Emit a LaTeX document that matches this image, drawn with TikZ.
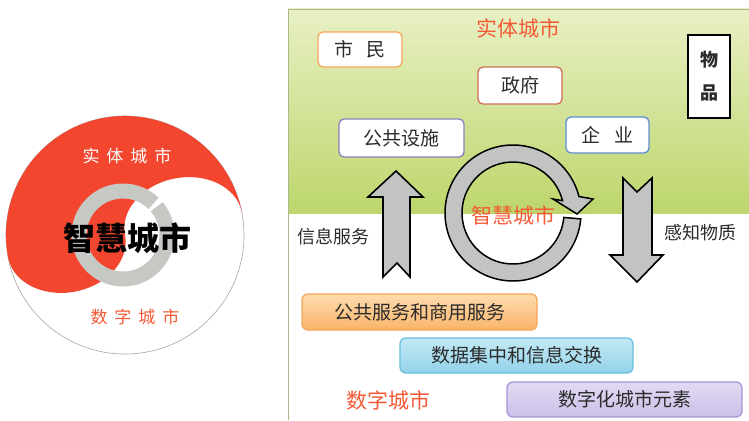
\documentclass[tikz,border=0pt]{standalone}
\usepackage{fontspec}
\setmainfont{Noto Sans CJK SC}
\usetikzlibrary{calc}
\definecolor{cred}{HTML}{F2462E}
\definecolor{ttl}{HTML}{F55A36}
\definecolor{txt}{HTML}{2B2B2B}
\definecolor{ringgray}{HTML}{C6C8C4}
\definecolor{arrgray}{HTML}{C2C4C1}
\definecolor{gtop}{HTML}{E8F0C4}
\definecolor{gbot}{HTML}{BDD66C}
\definecolor{pborder}{HTML}{A9B98A}
\definecolor{bOrange}{HTML}{F6A65A}
\definecolor{bBrown}{HTML}{D0705A}
\definecolor{bPurple}{HTML}{8A80C0}
\definecolor{bBlue}{HTML}{5B8FD0}
\definecolor{oTop}{HTML}{FDDCAE}
\definecolor{oBot}{HTML}{F9B468}
\definecolor{cTop}{HTML}{C4EAF5}
\definecolor{cBot}{HTML}{92D2EA}
\definecolor{cDraw}{HTML}{6CC0DE}
\definecolor{lTop}{HTML}{E2DAF3}
\definecolor{lBot}{HTML}{CBBFE8}
\definecolor{lDraw}{HTML}{A796D4}
\begin{document}
\begin{tikzpicture}[x=1pt,y=-1pt,
  box/.style={draw, line width=1.3pt, rounded corners=5pt, fill=white, text=txt,
    font=\fontsize{19}{19}\selectfont, inner sep=0pt},
  bigbox/.style={draw, line width=1.3pt, rounded corners=6pt, text=txt,
    font=\fontsize{19}{19}\selectfont, inner sep=0pt, minimum width=235pt, minimum height=36pt},
  label/.style={text=txt, font=\fontsize{18}{18}\selectfont, inner sep=0pt},
  title/.style={text=ttl, font=\fontsize{21}{21}\selectfont, inner sep=0pt},
  bigarrow/.style={fill=arrgray, draw=black, line width=1.6pt}]
\useasboundingbox (0,0) rectangle (749,420);
\fill[white] (0,0) rectangle (749,420);

% ---------- left: yin-yang circle ----------
\begin{scope}[shift={(125,235)}]
  \draw[gray!70, line width=0.6pt, fill=white] (0,0) circle[radius=119];
  \begin{scope}[rotate=11]
    \fill[cred] (-119,0) arc[start angle=180, end angle=360, radius=119]
      arc[start angle=0, end angle=-180, x radius=59.5, y radius=46]
      arc[start angle=0, end angle=180, x radius=59.5, y radius=46] -- cycle;
  \end{scope}
\end{scope}
\draw[ringgray, line width=15pt] (123,235) ++(-40:44)
  arc[start angle=-40, end angle=314, radius=44];
\node[text=white, font=\fontsize{17}{17}\selectfont, inner sep=0pt] (lt) at (127,156)
  {实\hspace{7pt}体\hspace{7pt}城\hspace{7pt}市};
\node[text=black, font=\bfseries\fontsize{32}{32}\selectfont, inner sep=0pt] (lc) at (127,238) {智慧城市};
\node[text=ttl, font=\fontsize{17}{17}\selectfont, inner sep=0pt] (lb) at (135,317)
  {数\hspace{7pt}字\hspace{7pt}城\hspace{7pt}市};

% ---------- right panel ----------
\shade[top color=gtop, bottom color=gbot] (288,9) rectangle (749,213);
\draw[pborder, line width=0.8pt] (749,9) -- (288,9) -- (288,420);

% up arrow
\draw[bigarrow] (396,171) -- (423,197) -- (410,197) -- (410,277) -- (397,263)
  -- (383,277) -- (383,197) -- (368,197) -- cycle;
% down arrow
\draw[bigarrow] (623,178) -- (637,192) -- (652,178) -- (652,255) -- (663,255)
  -- (637,282) -- (610,255) -- (623,255) -- cycle;
% circular arrow
\coordinate (c) at (513,213);
\draw[bigarrow, line width=1.5pt] ($(c)+(5:68)$) arc[start angle=5, end angle=346, radius=68]
  -- (593,199) -- (577,214) -- (553,199) -- ($(c)+(346:51)$)
  arc[start angle=346, end angle=5, radius=51] -- cycle;

\node[title] (tTop) at (518,28) {实体城市};
\node[title] (tMid) at (513,215) {智慧城市};
\node[title] (tBot) at (388,400) {数字城市};
\node[label] (info) at (333,237) {信息服务};
\node[label] (sense) at (700,233) {感知物质};

% upper boxes
\node[box, draw=bOrange, minimum width=84pt, minimum height=35pt] (citizen) at (360,49.5) {市\hspace{14pt}民};
\node[box, draw=bBrown, minimum width=84pt, minimum height=37pt] (gov) at (520,85.5) {政府};
\node[box, draw=black, line width=2pt, rounded corners=0pt, minimum width=42pt, minimum height=83pt,
  align=center, font=\bfseries\fontsize{18}{33}\selectfont] (goods) at (709,76.5) {物\\品};
\node[box, draw=bPurple, minimum width=125pt, minimum height=38pt] (facil) at (401.5,138) {公共设施};
\node[box, draw=bBlue, minimum width=83pt, minimum height=36pt] (corp) at (607.5,135) {企\hspace{14pt}业};

% lower boxes
\node[bigbox, draw=bOrange, top color=oTop, bottom color=oBot] (svc) at (419.5,312) {公共服务和商用服务};
\node[bigbox, draw=cDraw, top color=cTop, bottom color=cBot, minimum width=233pt, minimum height=35pt] (data) at (516.5,355.5) {数据集中和信息交换};
\node[bigbox, draw=lDraw, top color=lTop, bottom color=lBot, minimum height=35pt] (elem) at (624.5,399.5) {数字化城市元素};
\end{tikzpicture}
\end{document}
